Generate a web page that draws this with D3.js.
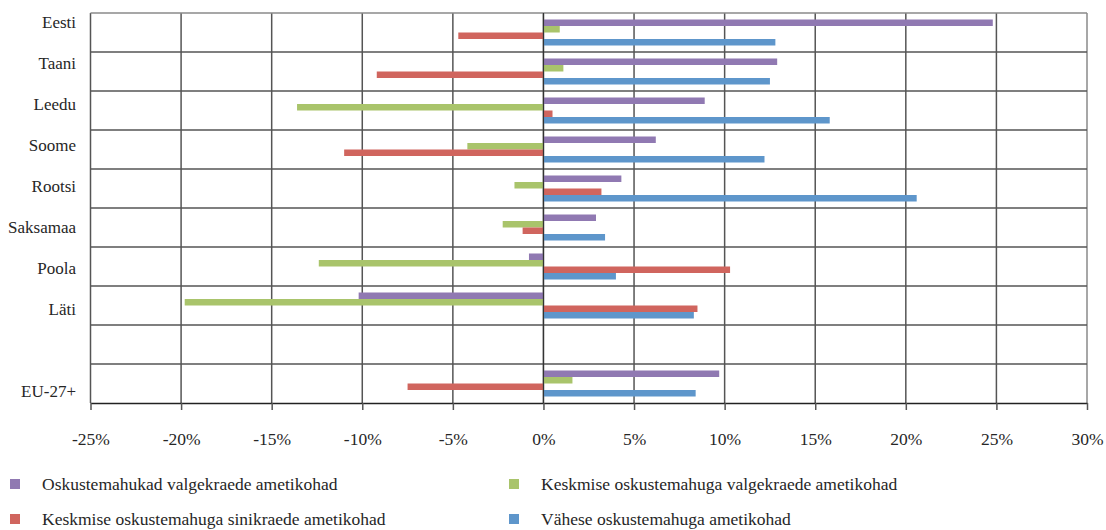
<!DOCTYPE html>
<html>
<head>
<meta charset="utf-8">
<script src="https://cdn.jsdelivr.net/npm/d3@7"></script>
<style>
    body { margin: 0; background: #fff; }
    text { font-family: "Liberation Serif", "DejaVu Serif", serif; fill: #262626; }
</style>
</head>
<body>
<script>
// categories top to bottom, "" is the empty spacer row before EU-27+
var categories = ["Eesti", "Taani", "Leedu", "Soome", "Rootsi", "Saksamaa", "Poola", "Läti", "", "EU-27+"];

var seriesNames = ["Oskustemahukad valgekraede ametikohad",
                   "Keskmise oskustemahuga valgekraede ametikohad",
                   "Keskmise oskustemahuga sinikraede ametikohad",
                   "Vähese oskustemahuga ametikohad"];

// values in %, same order as categories
var highWhite   = [24.8, 12.9, 8.9, 6.2, 4.3, 2.9, -0.8, -10.2, null, 9.7];
var midWhite    = [0.9, 1.1, -13.6, -4.2, -1.6, -2.25, -12.4, -19.8, null, 1.6];
var midBlue     = [-4.7, -9.2, 0.5, -11.0, 3.2, -1.15, 10.3, 8.5, null, -7.5];
var lowSkill    = [12.8, 12.5, 15.8, 12.2, 20.6, 3.4, 4.0, 8.3, null, 8.4];

var tickValues = [-25, -20, -15, -10, -5, 0, 5, 10, 15, 20, 25, 30];

var colors = ["#9079b2", "#a9c46b", "#d0655e", "#5e96cb"];

(function() {
    var width = 1106,
        height = 530,
        plotTop = 13,
        plotBottom = 403,
        plotLeft = 90.5,
        plotRight = 1087,
        seriesValues = [highWhite, midWhite, midBlue, lowSkill];

    var svg = d3.select("body").append("svg")
                .attr("width", width)
                .attr("height", height);

    svg.append("rect")
       .attr("width", width)
       .attr("height", height)
       .style("fill", "#fff");

    var x = d3.scaleLinear()
              .domain([-25, 30])
              .range([plotLeft, plotRight]);

    var y = d3.scaleBand()
              .domain(categories)
              .range([plotTop, plotBottom]);

    var ySub = d3.scaleBand()
                 .domain(d3.range(seriesNames.length))
                 .range([0, y.bandwidth()])
                 .paddingInner(0)
                 .paddingOuter(1);

    // labels sit on a slightly wider spacing than the rows in the source
    var labelY = d3.scalePoint()
                   .domain(categories)
                   .range([22, 391]);

    // vertical grid
    svg.append("g").selectAll("line")
       .data(tickValues)
       .enter()
       .append("line")
       .attr("x1", function(d) { return x(d); })
       .attr("x2", function(d) { return x(d); })
       .attr("y1", plotTop)
       .attr("y2", plotBottom)
       .style("stroke", function(d) { return d === 30 ? "#8a8a8a" : "#555"; })
       .style("stroke-width", 1.5);

    // horizontal row lines
    var rowEdges = categories.map(function(c) { return y(c); });
    svg.append("g").selectAll("line")
       .data(rowEdges)
       .enter()
       .append("line")
       .attr("x1", plotLeft)
       .attr("x2", plotRight)
       .attr("y1", function(d) { return d; })
       .attr("y2", function(d) { return d; })
       .style("stroke", function(d, i) { return i === 0 ? "#8a8a8a" : "#555"; })
       .style("stroke-width", 1.5);

    // bars
    var barData = [];
    categories.forEach(function(c, ci) {
        seriesValues.forEach(function(vals, si) {
            if (vals[ci] !== null) {
                barData.push({cat : c, series : si, value : vals[ci]});
            }
        });
    });

    svg.append("g").selectAll("rect")
       .data(barData)
       .enter()
       .append("rect")
       .attr("x", function(d) { return x(Math.min(0, d.value)); })
       .attr("width", function(d) { return Math.abs(x(d.value) - x(0)); })
       .attr("y", function(d) { return y(d.cat) + ySub(d.series); })
       .attr("height", ySub.bandwidth())
       .style("fill", function(d) { return colors[d.series]; });

    // zero line over the bars
    svg.append("line")
       .attr("x1", x(0))
       .attr("x2", x(0))
       .attr("y1", plotTop)
       .attr("y2", plotBottom)
       .style("stroke", "#333")
       .style("stroke-width", 1.2);

    // bottom axis
    var axis = svg.append("g")
                  .attr("transform", "translate(0," + plotBottom + ")")
                  .call(d3.axisBottom(x)
                          .tickValues(tickValues)
                          .tickSize(7)
                          .tickSizeOuter(0)
                          .tickFormat(function(d) { return d + "%"; }));

    axis.select(".domain").style("stroke", "#222").style("stroke-width", 1.5);
    axis.selectAll(".tick line").style("stroke", "#555").style("stroke-width", 1.5);
    axis.selectAll(".tick text")
        .attr("y", 36)
        .attr("dy", "0.35em")
        .style("font-family", "'Liberation Serif', serif")
        .style("font-size", "17.5px")
        .style("fill", "#262626");

    // category labels
    svg.append("g").selectAll("text")
       .data(categories)
       .enter()
       .append("text")
       .attr("x", 76)
       .attr("y", function(d) { return labelY(d); })
       .attr("dy", "0.35em")
       .attr("text-anchor", "end")
       .style("font-size", "17px")
       .text(function(d) { return d; });

    // legend, two columns by two rows
    var legend = svg.append("g").selectAll("g")
                    .data(seriesNames)
                    .enter()
                    .append("g")
                    .attr("transform", function(d, i) {
                        return "translate(" + (i % 2 === 0 ? 10 : 509) + "," + (i < 2 ? 484 : 519) + ")";
                    });

    legend.append("rect")
          .attr("y", -5)
          .attr("width", 10)
          .attr("height", 10)
          .style("fill", function(d, i) { return colors[i]; });

    legend.append("text")
          .attr("x", 32)
          .attr("dy", "0.35em")
          .style("font-size", "17.5px")
          .text(function(d) { return d; });
})();
</script>
</body>
</html>
